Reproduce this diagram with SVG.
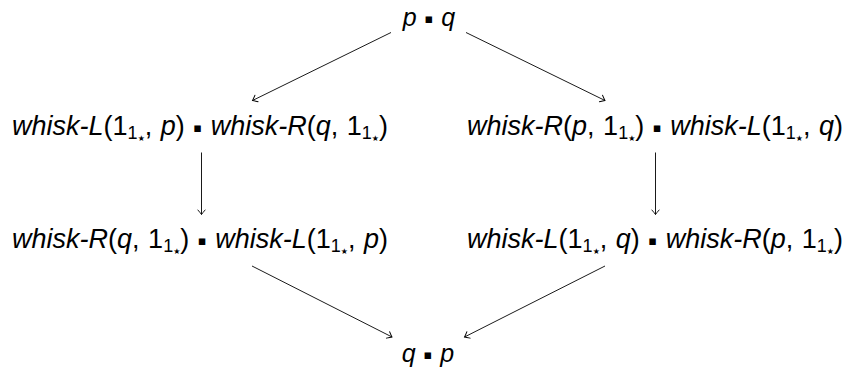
<svg xmlns="http://www.w3.org/2000/svg" width="850" height="368" viewBox="0 0 850 368">
<defs>
<style>
text{font-family:"Liberation Sans",Arial,sans-serif;font-size:27px;fill:#000;word-spacing:1px}
.it{font-style:italic}
.sub{font-size:18px}
.star{font-size:8px;font-family:"DejaVu Sans",sans-serif}
.dot{font-family:"DejaVu Sans",sans-serif;font-size:13px}
.edge{stroke:#000;stroke-width:0.9;fill:none;marker-end:url(#ah)}
</style>
<marker id="ah" markerUnits="userSpaceOnUse" markerWidth="12" markerHeight="12" viewBox="-6 -6 12 12" refX="0" refY="0" orient="auto">
<path d="M-4.5,-3.6 Q-1.5,-1 0,0 Q-1.5,1 -4.5,3.6" stroke="#000" stroke-width="0.9" fill="none" stroke-linecap="round"/>
</marker>
</defs>
<rect width="850" height="368" fill="#fff"/>
<g id="n-top">
<text x="429" y="26" text-anchor="middle" style="font-size:25px"><tspan class="it">p</tspan> <tspan class="dot" dy="-3">▪</tspan><tspan dy="3"> </tspan><tspan class="it">q</tspan></text>
</g>
<g id="n-left1">
<text x="200" y="135" text-anchor="middle"><tspan class="it">whisk-L</tspan>(1<tspan class="sub" dy="4">1</tspan><tspan class="star" dy="2">★</tspan><tspan dy="-6">, </tspan><tspan class="it">p</tspan>) <tspan class="dot" dy="-3">▪</tspan><tspan dy="3"> </tspan><tspan class="it">whisk-R</tspan>(<tspan class="it">q</tspan>, 1<tspan class="sub" dy="4">1</tspan><tspan class="star" dy="2">★</tspan><tspan dy="-6">)</tspan></text>
</g>
<g id="n-right1">
<text x="655" y="135" text-anchor="middle"><tspan class="it">whisk-R</tspan>(<tspan class="it">p</tspan>, 1<tspan class="sub" dy="4">1</tspan><tspan class="star" dy="2">★</tspan><tspan dy="-6">) </tspan><tspan class="dot" dy="-3">▪</tspan><tspan dy="3"> </tspan><tspan class="it">whisk-L</tspan>(1<tspan class="sub" dy="4">1</tspan><tspan class="star" dy="2">★</tspan><tspan dy="-6">, </tspan><tspan class="it">q</tspan>)</text>
</g>
<g id="n-left2">
<text x="200" y="248" text-anchor="middle"><tspan class="it">whisk-R</tspan>(<tspan class="it">q</tspan>, 1<tspan class="sub" dy="4">1</tspan><tspan class="star" dy="2">★</tspan><tspan dy="-6">) </tspan><tspan class="dot" dy="-3">▪</tspan><tspan dy="3"> </tspan><tspan class="it">whisk-L</tspan>(1<tspan class="sub" dy="4">1</tspan><tspan class="star" dy="2">★</tspan><tspan dy="-6">, </tspan><tspan class="it">p</tspan>)</text>
</g>
<g id="n-right2">
<text x="655" y="248" text-anchor="middle"><tspan class="it">whisk-L</tspan>(1<tspan class="sub" dy="4">1</tspan><tspan class="star" dy="2">★</tspan><tspan dy="-6">, </tspan><tspan class="it">q</tspan>) <tspan class="dot" dy="-3">▪</tspan><tspan dy="3"> </tspan><tspan class="it">whisk-R</tspan>(<tspan class="it">p</tspan>, 1<tspan class="sub" dy="4">1</tspan><tspan class="star" dy="2">★</tspan><tspan dy="-6">)</tspan></text>
</g>
<g id="n-bottom">
<text x="428" y="362" text-anchor="middle" style="font-size:25px"><tspan class="it">q</tspan> <tspan class="dot" dy="-3">▪</tspan><tspan dy="3"> </tspan><tspan class="it">p</tspan></text>
</g>
<g id="edges">
<line class="edge" x1="391" y1="32.5" x2="252.5" y2="100.5"/>
<line class="edge" x1="466" y1="32.5" x2="605" y2="100.5"/>
<line class="edge" x1="201.5" y1="152.5" x2="201.5" y2="214.5"/>
<line class="edge" x1="655.5" y1="152.5" x2="655.5" y2="214.5"/>
<line class="edge" x1="252" y1="266" x2="392" y2="337"/>
<line class="edge" x1="605" y1="266" x2="464.5" y2="337"/>
</g>
</svg>
